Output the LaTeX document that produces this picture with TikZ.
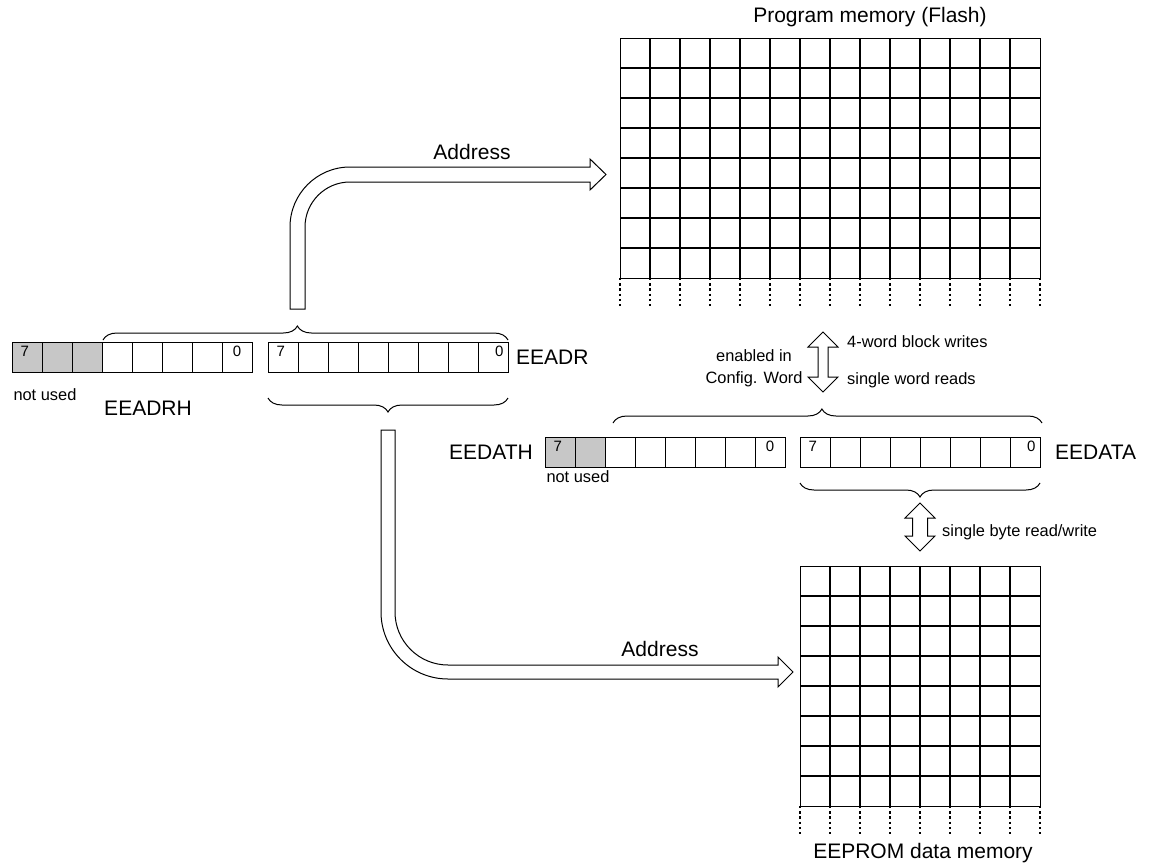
\documentclass[tikz,border=0pt]{standalone}
\usepackage{fontspec}
\setmainfont{Liberation Sans}
\usetikzlibrary{calc,positioning,decorations.pathreplacing}

\begin{document}
\begin{tikzpicture}[
	x=0.5pt,y=-0.5pt,
	font=\fontsize{10.5}{12.6}\selectfont,
	line width=0.5pt,
	small/.style={font=\fontsize{8.2}{11}\selectfont},
	bitcell/.style={
		rectangle,draw,
		minimum width=15pt,minimum height=15pt,
		inner sep=0pt,outer sep=0pt
	},
	unused/.style={bitcell,fill=black!22},
	bitno/.style={font=\fontsize{7.5}{9}\selectfont,inner xsep=4pt,inner ysep=2pt},
	brace/.style={decorate,decoration={brace,amplitude=7pt}},
	fat/.style={draw,fill=white,line join=miter},
	memline/.style={line width=0.6pt},
	tail/.style={line width=0.6pt,dash pattern=on 1.2pt off 1.4pt}
	]
	
	\useasboundingbox (0,0) rectangle (1152,868);
	
	% address and data registers
	\foreach \i in {0,1,2} \node[unused] (adrh\i) at (27+30*\i,357) {};
	\foreach \i in {3,...,7} \node[bitcell] (adrh\i) at (27+30*\i,357) {};
	\foreach \i in {0,...,7} \node[bitcell] (adrl\i) at (283+30*\i,357) {};
	\foreach \i in {0,1} \node[unused] (dath\i) at (560+30*\i,452) {};
	\foreach \i in {2,...,7} \node[bitcell] (dath\i) at (560+30*\i,452) {};
	\foreach \i in {0,...,7} \node[bitcell] (datl\i) at (815+30*\i,452) {};
	
	\node[bitno,anchor=north west] at (adrh0.north west) {7};
	\node[bitno,anchor=north] at (adrh7.north) {0};
	\node[bitno,anchor=north west] at (adrl0.north west) {7};
	\node[bitno,anchor=north east,inner xsep=2pt] at (adrl7.north east) {0};
	\node[bitno,anchor=north west] at (dath0.north west) {7};
	\node[bitno,anchor=north] at (dath7.north) {0};
	\node[bitno,anchor=north west] at (datl0.north west) {7};
	\node[bitno,anchor=north east,inner xsep=2pt] at (datl7.north east) {0};
	
	\node[right=0.5pt of adrl7] (eeadrlbl) {EEADR};
	\node (eeadrhlbl) at (148,408) {EEADRH};
	\node[left=2.5pt of dath0] (eedathlbl) {EEDATH};
	\node[right=4pt of datl7] (eedatalbl) {EEDATA};
	\node[small,anchor=north west,inner sep=0pt] (adrfree)
	at ($(adrh0.south west)+(1,16)$) {not used};
	\node[small,anchor=north west,inner sep=0pt] (datfree)
	at ($(dath0.south west)+(1,3)$) {not used};
	
	% memories
	\node[draw,memline,minimum width=210pt,minimum height=120pt,
	inner sep=0pt,anchor=north west] (flash) at (620,38) {};
	\foreach \c in {1,...,13} \draw[memline] (620+30*\c,38) -- (620+30*\c,278);
	\foreach \r in {1,...,7} \draw[memline] (620,38+30*\r) -- (1040,38+30*\r);
	\foreach \c in {0,...,14} \draw[tail] (620+30*\c,278) -- ++(0,30);
	\node (flashlbl) at (870,17) {Program memory (Flash)};
	
	\node[draw,memline,minimum width=120pt,minimum height=120pt,
	inner sep=0pt,anchor=north west] (eeprom) at (800,566) {};
	\foreach \c in {1,...,7} \draw[memline] (800+30*\c,566) -- (800+30*\c,806);
	\foreach \r in {1,...,7} \draw[memline] (800,566+30*\r) -- (1040,566+30*\r);
	\foreach \c in {0,...,8} \draw[tail] (800+30*\c,806) -- ++(0,30);
	\node (eepromlbl) at (923,853) {EEPROM data memory};
	
	% braces
	\draw[brace,decoration={aspect=0.48}]
	($(adrh3.north west)+(1,-2)$) -- ($(adrl7.north east)+(0,-2)$);
	\draw[brace] ($(adrl7.south east)+(0,26)$) -- ($(adrl0.south west)+(0,26)$);
	\draw[brace,decoration={aspect=0.487}]
	($(dath2.north west)+(8,-14)$) -- ($(datl7.north east)+(2,-14)$);
	\draw[brace] ($(datl7.south east)+(0,16)$) -- ($(datl0.south west)+(0,16)$);
	
	% address paths
	\coordinate (adrup) at (297.5,309);
	\coordinate (adrdown) at (388,430);
	\draw[fat] (adrup) ++(-7.5,0) -- ++(0,-82)
	arc[start angle=180,end angle=90,radius=30pt] -- ++(240,0)
	-- ++(0,-8) -- ++(16,15.5) -- ++(-16,15.5) -- ++(0,-8) -- ++(-240,0)
	arc[start angle=90,end angle=180,radius=22.5pt] -- ++(0,82) -- cycle;
	\node (adrlbl1) at (472,152) {Address};
	
	\draw[fat] (adrdown) ++(-7,0) -- ++(0,182)
	arc[start angle=180,end angle=270,radius=33.5pt] -- ++(330,0)
	-- ++(0,8) -- ++(15,-15) -- ++(-15,-15) -- ++(0,8) -- ++(-330,0)
	arc[start angle=270,end angle=180,radius=26.5pt] -- ++(0,-182) -- cycle;
	\node (adrlbl2) at (660,649) {Address};
	
	% transfers
	\coordinate (flashport) at (823,332);
	\draw[fat] (flashport) -- ++(15,15) -- ++(-10,0) -- ++(0,30) -- ++(10,0)
	-- ++(-15,15) -- ++(-15,-15) -- ++(10,0) -- ++(0,-30) -- ++(-10,0) -- cycle;
	\node[small,align=center] (cfgword) at (754,368) {enabled in\\Config. Word};
	\node[small,anchor=west] (blockwr) at (840,342) {4-word block writes};
	\node[small,anchor=west] (wordrd) at (840,380) {single word reads};
	
	\coordinate (eeport) at (920,503);
	\draw[fat] (eeport) -- ++(15,15) -- ++(-7.5,0) -- ++(0,18) -- ++(7.5,0)
	-- ++(-15,15) -- ++(-15,-15) -- ++(7.5,0) -- ++(0,-18) -- ++(-7.5,0) -- cycle;
	\node[small,anchor=west] (byterw) at (935,532) {single byte read/write};
	
\end{tikzpicture}
\end{document}
